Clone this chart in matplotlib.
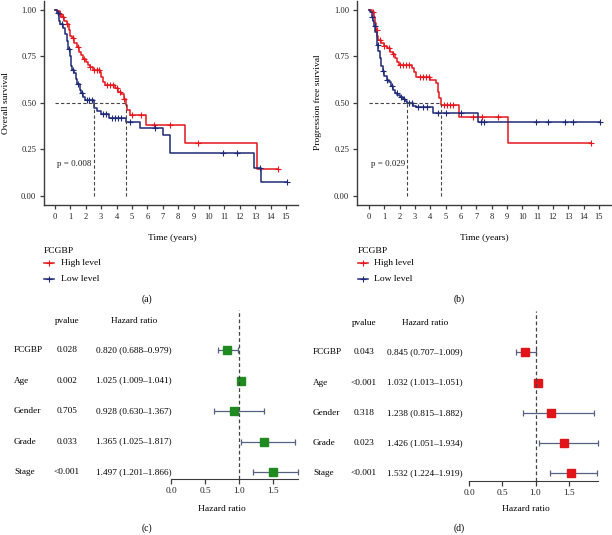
import numpy as np
import matplotlib
matplotlib.use("Agg")
import matplotlib.pyplot as plt
from matplotlib.lines import Line2D
from matplotlib import transforms

plt.rcParams['font.family'] = ['Liberation Serif', 'DejaVu Serif']

W, H = 612, 535
RED = '#e5161d'
BLUE = '#1f2a77'
GREEN = '#1f8a1f'
AXC = '#3c3c3c'

# ---- Kaplan-Meier data ----
# (a) overall survival
os_high_t = [0, 0.15, 0.3, 0.45, 0.6, 0.75, 0.9, 1.0, 1.1, 1.25, 1.4, 1.55, 1.7, 1.85, 2.0,
             2.15, 2.3, 2.45, 2.9, 3.0, 3.1, 3.25, 3.9, 4.1, 4.3, 4.45, 4.6, 4.7, 4.85,
             5.9, 8.45, 13.1]
os_high_s = [1.0, 0.99, 0.975, 0.96, 0.94, 0.92, 0.89, 0.86, 0.845, 0.82, 0.80, 0.775, 0.755,
             0.735, 0.72, 0.705, 0.69, 0.675, 0.665, 0.64, 0.61, 0.595, 0.58, 0.56, 0.545,
             0.52, 0.49, 0.46, 0.435, 0.38, 0.285, 0.143]
os_high_cens = [0.3, 0.55, 0.8, 1.2, 1.5, 1.9, 2.3, 2.55, 2.7, 2.85, 3.4, 3.6, 3.75, 4.0,
                4.2, 4.5, 5.0, 5.6, 6.4, 7.45, 9.3, 14.5]
os_low_t = [0, 0.1, 0.25, 0.35, 0.5, 0.65, 0.75, 0.85, 0.95, 1.05, 1.1, 1.25, 1.35, 1.45,
            1.6, 1.7, 1.85, 1.95, 2.55, 2.75, 3.0, 3.5, 4.6, 5.5, 7.0, 7.45, 12.9, 13.4]
os_low_s = [1.0, 0.98, 0.94, 0.92, 0.90, 0.87, 0.83, 0.79, 0.75, 0.70, 0.675, 0.66, 0.63,
            0.60, 0.57, 0.55, 0.53, 0.515, 0.47, 0.455, 0.44, 0.42, 0.395, 0.363, 0.327,
            0.229, 0.148, 0.077]
os_low_cens = [0.2, 0.45, 0.9, 1.15, 1.5, 1.75, 2.05, 2.2, 2.4, 3.1, 3.3, 3.7, 3.9, 4.1,
               4.3, 4.9, 6.5, 10.9, 11.8, 13.3, 15.05]

# (b) progression free survival
pfs_high_t = [0, 0.2, 0.3, 0.37, 0.45, 0.52, 0.6, 0.8, 1.0, 1.2, 1.4, 1.55, 1.7, 1.85, 1.95,
              2.8, 2.95, 3.05, 4.0, 4.4, 4.5, 4.6, 4.7, 5.9, 9.05]
pfs_high_s = [1.0, 0.985, 0.96, 0.93, 0.89, 0.86, 0.835, 0.82, 0.805, 0.795, 0.775, 0.76,
              0.74, 0.72, 0.705, 0.685, 0.665, 0.64, 0.625, 0.605, 0.56, 0.525, 0.49,
              0.425, 0.285]
pfs_high_cens = [0.25, 0.5, 0.7, 1.0, 1.3, 1.6, 2.0, 2.2, 2.4, 2.6, 3.3, 3.5, 3.7, 3.9,
                 4.9, 5.1, 5.3, 5.5, 6.8, 7.4, 8.4, 14.5]
pfs_low_t = [0, 0.1, 0.2, 0.28, 0.35, 0.42, 0.5, 0.55, 0.62, 0.7, 0.78, 0.9, 1.0, 1.15,
             1.3, 1.45, 1.6, 1.7, 1.85, 2.0, 2.2, 2.35, 2.49, 2.9, 3.1, 4.15, 7.1]
pfs_low_s = [1.0, 0.985, 0.96, 0.94, 0.91, 0.88, 0.85, 0.81, 0.78, 0.74, 0.70, 0.67, 0.645,
             0.625, 0.61, 0.59, 0.57, 0.555, 0.54, 0.53, 0.52, 0.51, 0.497, 0.485, 0.476,
             0.447, 0.399]
pfs_low_cens = [0.2, 0.4, 0.6, 0.9, 1.2, 1.5, 1.8, 2.1, 2.3, 2.6, 2.8, 3.2, 3.5, 3.8, 4.5,
                5.0, 6.0, 7.3, 7.5, 10.9, 11.7, 12.8, 13.3, 15.05]

# ---- Cox regression data ----
variables = ["FCGBP", "Age", "Gender", "Grade", "Stage"]
os_pvals = ["0.028", "0.002", "0.705", "0.033", "<0.001"]
os_hr = [0.820, 1.025, 0.928, 1.365, 1.497]
os_lo = [0.688, 1.009, 0.630, 1.025, 1.201]
os_hi = [0.979, 1.041, 1.367, 1.817, 1.866]
pfs_pvals = ["0.043", "<0.001", "0.318", "0.023", "<0.001"]
pfs_hr = [0.845, 1.032, 1.238, 1.426, 1.532]
pfs_lo = [0.707, 1.013, 0.815, 1.051, 1.224]
pfs_hi = [1.009, 1.051, 1.882, 1.934, 1.919]

fig = plt.figure(figsize=(W / 100, H / 100), dpi=100)


def add_ax(x0, y0, x1, y1):
    return fig.add_axes([x0 / W, 1 - y1 / H, (x1 - x0) / W, (y1 - y0) / H])


def ftext(x, y, s, **kw):
    fig.text(x / W, 1 - y / H, s, **kw)


def style_axes(ax):
    for side in ['top', 'right']:
        ax.spines[side].set_visible(False)
    for side in ['left', 'bottom']:
        ax.spines[side].set_color(AXC)
        ax.spines[side].set_linewidth(1.0)
    ax.tick_params(colors=AXC, labelcolor='#222222', width=0.9, length=3, labelsize=6.1, pad=2.5)


def surv_at(t, s, x):
    idx = np.searchsorted(t, x, side='right') - 1
    return np.array(s)[idx]


def km_panel(ax, groups, pval, xlim):
    meds = []
    for t, s, cens, col in groups:
        tt = list(t) + [max(cens)]
        ss = list(s) + [s[-1]]
        ax.step(tt, ss, where='post', color=col, lw=1.1)
        ax.plot(cens, surv_at(t, s, cens), ls='none', marker='+', ms=3.8, mew=0.8, color=col)
        meds.append(next(ti for ti, si in zip(t, s) if si <= 0.5))
    ax.plot([0, max(meds)], [0.5, 0.5], ls=(0, (3, 2)), color='#444444', lw=0.8)
    for m in meds:
        ax.plot([m, m], [0, 0.5], ls=(0, (3, 2)), color='#444444', lw=0.8)
    ax.text(0.15, 0.16, pval, fontsize=6.5, color='#222222')
    ax.set_xlim(*xlim)
    ax.set_ylim(-0.048, 1.046)
    ax.set_xticks(range(16))
    ax.set_yticks([0, 0.25, 0.5, 0.75, 1.0])
    ax.set_yticklabels(['0.00', '0.25', '0.50', '0.75', '1.00'])
    style_axes(ax)


ax_a = add_ax(44, 1, 298, 205)
km_panel(ax_a, [(os_high_t, os_high_s, os_high_cens, RED), (os_low_t, os_low_s, os_low_cens, BLUE)],
         "p = 0.008", (-0.714, 15.78))
ax_b = add_ax(357, 1, 611, 205)
km_panel(ax_b, [(pfs_high_t, pfs_high_s, pfs_high_cens, RED), (pfs_low_t, pfs_low_s, pfs_low_cens, BLUE)],
         "p = 0.029", (-0.78, 15.79))

ftext(6, 103, "Overall survival", rotation=90, ha='center', va='center', fontsize=6.8)
ftext(318, 102, "Progression free survival", rotation=90, ha='center', va='center', fontsize=6.8)
ftext(172, 238, "Time (years)", ha='center', va='center', fontsize=6.8)
ftext(484, 238, "Time (years)", ha='center', va='center', fontsize=6.8)

# legends
for lx, tx in [(44, 61), (358, 374)]:
    ftext(lx, 251, "FCGBP", ha='left', va='center', fontsize=6.8)
    for yy, col, lab in [(263, RED, "High level"), (279, BLUE, "Low level")]:
        fig.add_artist(Line2D([lx / W, (lx + 10) / W], [1 - yy / H, 1 - yy / H],
                              color=col, lw=1.1, transform=fig.transFigure))
        fig.add_artist(Line2D([(lx + 5) / W], [1 - yy / H], marker='+', ms=3.8, mew=0.8,
                              color=col, transform=fig.transFigure))
        ftext(tx, yy, lab, ha='left', va='center', fontsize=6.8)

ftext(147, 299, "(a)", ha='center', va='center', fontsize=7)
ftext(459, 299, "(b)", ha='center', va='center', fontsize=7)


# ---- forest plots ----
def forest(ax, pvals, hr, lo, hi, col, xlim, ylim, xcols):
    rows = np.arange(len(variables))
    ax.errorbar(hr, rows, xerr=[np.array(hr) - np.array(lo), np.array(hi) - np.array(hr)],
                fmt='none', ecolor='#55617f', elinewidth=0.9, capsize=2.2, capthick=0.9)
    ax.plot(hr, rows, ls='none', marker='s', ms=5.5, color=col)
    ax.axvline(1.0, color='#444444', lw=0.9, ls=(0, (3, 2)))
    ax.set_xlim(*xlim)
    ax.set_ylim(*ylim)
    ax.set_yticks([])
    ax.set_xticks([0, 0.5, 1.0, 1.5])
    ax.set_xticklabels(['0.0', '0.5', '1.0', '1.5'])
    for side in ['top', 'right', 'left']:
        ax.spines[side].set_visible(False)
    ax.spines['bottom'].set_bounds(0, max(hi))
    ax.spines['bottom'].set_color(AXC)
    ax.tick_params(axis='x', colors=AXC, labelcolor='#222222', length=3.5, width=0.9,
                   labelsize=6.7, pad=2)
    tr = transforms.blended_transform_factory(fig.transFigure, ax.transData)
    xl, xp, xh = xcols
    hy = -0.95
    ax.text(xp / W, hy, "pvalue", transform=tr, ha='center', va='center', fontsize=6.7)
    ax.text(xh / W, hy, "Hazard ratio", transform=tr, ha='center', va='center', fontsize=6.7)
    for r, v, p, h, l, u in zip(rows, variables, pvals, hr, lo, hi):
        ax.text(xl / W, r, v, transform=tr, ha='left', va='center', fontsize=6.7)
        ax.text(xp / W, r, p, transform=tr, ha='center', va='center', fontsize=6.7)
        ax.text(xh / W, r, f"{h:.3f} ({l:.3f}\u2013{u:.3f})", transform=tr,
                ha='center', va='center', fontsize=6.7)


ax_c = add_ax(165, 310, 302, 479)
forest(ax_c, os_pvals, os_hr, os_lo, os_hi, GREEN, (-0.088, 1.926), (4.23, -1.32), (14, 67, 134))
ax_d = add_ax(463, 311, 612, 481)
forest(ax_d, pfs_pvals, pfs_hr, pfs_lo, pfs_hi, '#e01419', (-0.09, 2.15), (4.25, -1.36), (313, 364, 425))

ftext(222, 509, "Hazard ratio", ha='center', va='center', fontsize=6.8)
ftext(526, 509, "Hazard ratio", ha='center', va='center', fontsize=6.8)
ftext(147, 528, "(c)", ha='center', va='center', fontsize=7)
ftext(459, 528, "(d)", ha='center', va='center', fontsize=7)

fig.savefig("out.png", dpi=100)
